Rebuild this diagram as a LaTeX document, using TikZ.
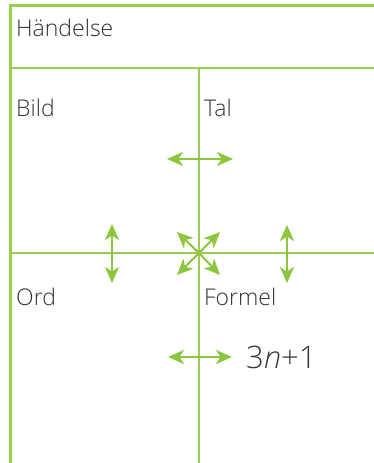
\documentclass[tikz,border=0pt]{standalone}
\usepackage{fontspec}
\setmainfont{Open Sans}[UprightFont=* Light, ItalicFont=* Light Italic]
\usetikzlibrary{arrows.meta}
\definecolor{gridgreen}{HTML}{9ACD50}
\definecolor{arrowgreen}{HTML}{8CC63F}
\definecolor{txt}{HTML}{333333}
\tikzset{
  gridline/.style={draw=gridgreen, line width=1.3pt},
  frameline/.style={draw=gridgreen, line width=3pt},
  tip/.tip={Stealth[length=16pt,width=14pt,inset=4.5pt]},
  twoway/.style={draw=arrowgreen, line width=2pt, tip-tip},
  oneway/.style={draw=arrowgreen, line width=2pt, -tip},
  label/.style={anchor=base west, inner sep=0pt, text=txt, font=\fontsize{23}{27}\selectfont},
}
\begin{document}
\begin{tikzpicture}[x=1pt,y=-1pt]
\useasboundingbox (0,0) rectangle (374,463);
\fill[white] (0,0) rectangle (374,463);
% frame and grid
\draw[gridline] (10,68) -- (374,68);
\draw[gridline] (10,253) -- (374,253);
\draw[gridline] (199,68) -- (199,463);
\draw[frameline] (10,463) -- (10,5.5) -- (374,5.5);
% headings
\node[label] (handelse) at (16,36) {Händelse};
\node[label] (bild) at (16,116) {Bild};
\node[label] (tal) at (204,116) {Tal};
\node[label] (ord) at (16,305) {Ord};
\node[label] (formel) at (204,305) {Formel};
\node[anchor=base west, inner sep=0pt, text=txt, font=\fontsize{31}{36}\selectfont] (expr) at (246,368) {3\textit{n}+1};
% arrow end points
\coordinate (c) at (199,253);
\coordinate (h1a) at (167,159); \coordinate (h1b) at (233,159);
\coordinate (h2a) at (168,357); \coordinate (h2b) at (232,357);
\coordinate (v1a) at (112,224); \coordinate (v1b) at (112,283);
\coordinate (v2a) at (287,225); \coordinate (v2b) at (287,283);
\coordinate (d1) at (177,232); \coordinate (d2) at (220,232);
\coordinate (d3) at (177,275); \coordinate (d4) at (220,275);
% arrows
\draw[twoway] (h1a) -- (h1b);
\draw[twoway] (h2a) -- (h2b);
\draw[twoway] (v1a) -- (v1b);
\draw[twoway] (v2a) -- (v2b);
\draw[oneway] (c) -- (d1);
\draw[oneway] (c) -- (d2);
\draw[oneway] (c) -- (d3);
\draw[oneway] (c) -- (d4);
\end{tikzpicture}
\end{document}
